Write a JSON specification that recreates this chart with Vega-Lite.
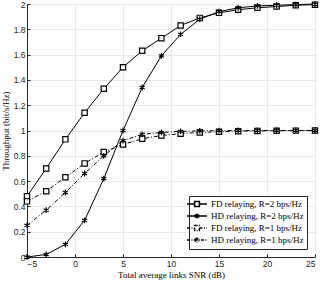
{
  "$schema": "https://vega.github.io/schema/vega-lite/v6.json",
  "width": 288,
  "height": 253,
  "autosize": {"type": "none"},
  "padding": {"left": 27, "top": 4, "right": 5, "bottom": 26},
  "background": "white",
  "config": {
    "view": {"stroke": "#262626", "strokeWidth": 1},
    "axis": {
      "labelFont": "Liberation Sans",
      "labelFontSize": 8.5,
      "labelColor": "#262626",
      "titleFont": "Liberation Serif",
      "titleFontSize": 9,
      "titleFontWeight": "normal",
      "titleColor": "black",
      "gridColor": "#e8e8e8",
      "domainColor": "#262626",
      "tickColor": "#262626",
      "tickSize": -3,
      "labelPadding": 5
    },
    "legend": {
      "orient": "bottom-right",
      "offset": 8,
      "symbolSize": 64,
      "labelFont": "Liberation Serif",
      "labelFontSize": 9,
      "labelColor": "black",
      "labelOffset": 9,
      "fillColor": "white",
      "strokeColor": "#262626",
      "padding": 3,
      "rowPadding": 0
    }
  },
  "data": {
    "values": [
      {"snr": -5, "s": "FD relaying, R=2 bps/Hz", "t": 0.48},
      {"snr": -3, "s": "FD relaying, R=2 bps/Hz", "t": 0.70},
      {"snr": -1, "s": "FD relaying, R=2 bps/Hz", "t": 0.93},
      {"snr": 1, "s": "FD relaying, R=2 bps/Hz", "t": 1.14},
      {"snr": 3, "s": "FD relaying, R=2 bps/Hz", "t": 1.33},
      {"snr": 5, "s": "FD relaying, R=2 bps/Hz", "t": 1.50},
      {"snr": 7, "s": "FD relaying, R=2 bps/Hz", "t": 1.63},
      {"snr": 9, "s": "FD relaying, R=2 bps/Hz", "t": 1.73},
      {"snr": 11, "s": "FD relaying, R=2 bps/Hz", "t": 1.83},
      {"snr": 13, "s": "FD relaying, R=2 bps/Hz", "t": 1.89},
      {"snr": 15, "s": "FD relaying, R=2 bps/Hz", "t": 1.93},
      {"snr": 17, "s": "FD relaying, R=2 bps/Hz", "t": 1.955},
      {"snr": 19, "s": "FD relaying, R=2 bps/Hz", "t": 1.97},
      {"snr": 21, "s": "FD relaying, R=2 bps/Hz", "t": 1.98},
      {"snr": 23, "s": "FD relaying, R=2 bps/Hz", "t": 1.99},
      {"snr": 25, "s": "FD relaying, R=2 bps/Hz", "t": 1.995},
      {"snr": -5, "s": "HD relaying, R=2 bps/Hz", "t": 0.0},
      {"snr": -3, "s": "HD relaying, R=2 bps/Hz", "t": 0.02},
      {"snr": -1, "s": "HD relaying, R=2 bps/Hz", "t": 0.10},
      {"snr": 1, "s": "HD relaying, R=2 bps/Hz", "t": 0.29},
      {"snr": 3, "s": "HD relaying, R=2 bps/Hz", "t": 0.62},
      {"snr": 5, "s": "HD relaying, R=2 bps/Hz", "t": 1.00},
      {"snr": 7, "s": "HD relaying, R=2 bps/Hz", "t": 1.34},
      {"snr": 9, "s": "HD relaying, R=2 bps/Hz", "t": 1.59},
      {"snr": 11, "s": "HD relaying, R=2 bps/Hz", "t": 1.76},
      {"snr": 13, "s": "HD relaying, R=2 bps/Hz", "t": 1.88},
      {"snr": 15, "s": "HD relaying, R=2 bps/Hz", "t": 1.94},
      {"snr": 17, "s": "HD relaying, R=2 bps/Hz", "t": 1.97},
      {"snr": 19, "s": "HD relaying, R=2 bps/Hz", "t": 1.985},
      {"snr": 21, "s": "HD relaying, R=2 bps/Hz", "t": 1.99},
      {"snr": 23, "s": "HD relaying, R=2 bps/Hz", "t": 1.995},
      {"snr": 25, "s": "HD relaying, R=2 bps/Hz", "t": 2.0},
      {"snr": -5, "s": "FD relaying, R=1 bps/Hz", "t": 0.44},
      {"snr": -3, "s": "FD relaying, R=1 bps/Hz", "t": 0.52},
      {"snr": -1, "s": "FD relaying, R=1 bps/Hz", "t": 0.63},
      {"snr": 1, "s": "FD relaying, R=1 bps/Hz", "t": 0.74},
      {"snr": 3, "s": "FD relaying, R=1 bps/Hz", "t": 0.83},
      {"snr": 5, "s": "FD relaying, R=1 bps/Hz", "t": 0.89},
      {"snr": 7, "s": "FD relaying, R=1 bps/Hz", "t": 0.935},
      {"snr": 9, "s": "FD relaying, R=1 bps/Hz", "t": 0.96},
      {"snr": 11, "s": "FD relaying, R=1 bps/Hz", "t": 0.975},
      {"snr": 13, "s": "FD relaying, R=1 bps/Hz", "t": 0.985},
      {"snr": 15, "s": "FD relaying, R=1 bps/Hz", "t": 0.99},
      {"snr": 17, "s": "FD relaying, R=1 bps/Hz", "t": 0.995},
      {"snr": 19, "s": "FD relaying, R=1 bps/Hz", "t": 0.997},
      {"snr": 21, "s": "FD relaying, R=1 bps/Hz", "t": 0.998},
      {"snr": 23, "s": "FD relaying, R=1 bps/Hz", "t": 0.999},
      {"snr": 25, "s": "FD relaying, R=1 bps/Hz", "t": 1.0},
      {"snr": -5, "s": "HD relaying, R=1 bps/Hz", "t": 0.25},
      {"snr": -3, "s": "HD relaying, R=1 bps/Hz", "t": 0.37},
      {"snr": -1, "s": "HD relaying, R=1 bps/Hz", "t": 0.51},
      {"snr": 1, "s": "HD relaying, R=1 bps/Hz", "t": 0.66},
      {"snr": 3, "s": "HD relaying, R=1 bps/Hz", "t": 0.80},
      {"snr": 5, "s": "HD relaying, R=1 bps/Hz", "t": 0.92},
      {"snr": 7, "s": "HD relaying, R=1 bps/Hz", "t": 0.97},
      {"snr": 9, "s": "HD relaying, R=1 bps/Hz", "t": 0.985},
      {"snr": 11, "s": "HD relaying, R=1 bps/Hz", "t": 0.993},
      {"snr": 13, "s": "HD relaying, R=1 bps/Hz", "t": 0.997},
      {"snr": 15, "s": "HD relaying, R=1 bps/Hz", "t": 0.999},
      {"snr": 17, "s": "HD relaying, R=1 bps/Hz", "t": 1.0},
      {"snr": 19, "s": "HD relaying, R=1 bps/Hz", "t": 1.0},
      {"snr": 21, "s": "HD relaying, R=1 bps/Hz", "t": 1.0},
      {"snr": 23, "s": "HD relaying, R=1 bps/Hz", "t": 1.0},
      {"snr": 25, "s": "HD relaying, R=1 bps/Hz", "t": 1.0}
    ]
  },
  "encoding": {
    "x": {
      "field": "snr", "type": "quantitative",
      "scale": {"domain": [-5, 25], "nice": false, "zero": false},
      "axis": {"title": "Total average links SNR (dB)", "values": [-5, 0, 5, 10, 15, 20, 25], "format": "~g", "titlePadding": 3}
    },
    "y": {
      "field": "t", "type": "quantitative",
      "scale": {"domain": [0, 2], "nice": false},
      "axis": {"title": "Throughput (bit/s/Hz)", "values": [0, 0.2, 0.4, 0.6, 0.8, 1, 1.2, 1.4, 1.6, 1.8, 2], "format": "~g", "titlePadding": 3}
    }
  },
  "layer": [
    {
      "transform": [{"filter": "indexof(datum.s, 'R=2') > 0"}],
      "mark": {"type": "line", "color": "black", "strokeWidth": 1},
      "encoding": {"detail": {"field": "s"}}
    },
    {
      "transform": [{"filter": "indexof(datum.s, 'R=1') > 0"}],
      "mark": {"type": "line", "color": "black", "strokeWidth": 1, "strokeDash": [4, 2, 1, 2]},
      "encoding": {"detail": {"field": "s"}}
    },
    {
      "mark": {"type": "point", "fill": "white", "stroke": "black", "strokeWidth": 1.2, "opacity": 1, "size": 28},
      "encoding": {
        "shape": {
          "field": "s", "type": "nominal",
          "scale": {
            "domain": ["FD relaying, R=2 bps/Hz", "HD relaying, R=2 bps/Hz", "FD relaying, R=1 bps/Hz", "HD relaying, R=1 bps/Hz"],
            "range": ["square", "M0,-1.1V1.1M-0.95,-0.55L0.95,0.55M-0.95,0.55L0.95,-0.55", "square", "M0,-1.1V1.1M-0.95,-0.55L0.95,0.55M-0.95,0.55L0.95,-0.55"]
          },
          "legend": null
        }
      }
    },
    {
      "transform": [{"filter": "datum.snr > 100"}],
      "mark": {"type": "point", "fill": "white", "stroke": "black", "strokeWidth": 1, "opacity": 1},
      "encoding": {
        "shape": {
          "field": "s", "type": "nominal",
          "scale": {
            "domain": ["FD relaying, R=2 bps/Hz", "HD relaying, R=2 bps/Hz", "FD relaying, R=1 bps/Hz", "HD relaying, R=1 bps/Hz"],
            "range": [
              "M-2.5,0H-0.6M0.6,0H2.5M-0.6,-0.6H0.6V0.6H-0.6Z",
              "M-2.5,0H2.5M0,-0.65V0.65M-0.56,-0.33L0.56,0.33M-0.56,0.33L0.56,-0.33",
              "M-2.5,0H-0.6M0.6,0H2.5M-0.6,-0.6H0.6V0.6H-0.6Z",
              "M-2.5,0H2.5M0,-0.65V0.65M-0.56,-0.33L0.56,0.33M-0.56,0.33L0.56,-0.33"
            ]
          },
          "legend": {
            "title": null,
            "encode": {"symbols": {"stroke": {"value": "black"}, "fill": {"value": "white"}, "strokeWidth": {"value": 1}}}
          }
        },
        "strokeDash": {
          "field": "s", "type": "nominal",
          "scale": {
            "domain": ["FD relaying, R=2 bps/Hz", "HD relaying, R=2 bps/Hz", "FD relaying, R=1 bps/Hz", "HD relaying, R=1 bps/Hz"],
            "range": [[1, 0], [1, 0], [3, 1.5, 1, 1.5], [3, 1.5, 1, 1.5]]
          },
          "legend": {
            "title": null,
            "encode": {"symbols": {"stroke": {"value": "black"}, "fill": {"value": "white"}, "strokeWidth": {"value": 1}}}
          }
        }
      }
    }
  ],
  "resolve": {
    "scale": {"shape": "independent", "strokeDash": "independent"},
    "legend": {"shape": "independent", "strokeDash": "independent"}
  }
}
